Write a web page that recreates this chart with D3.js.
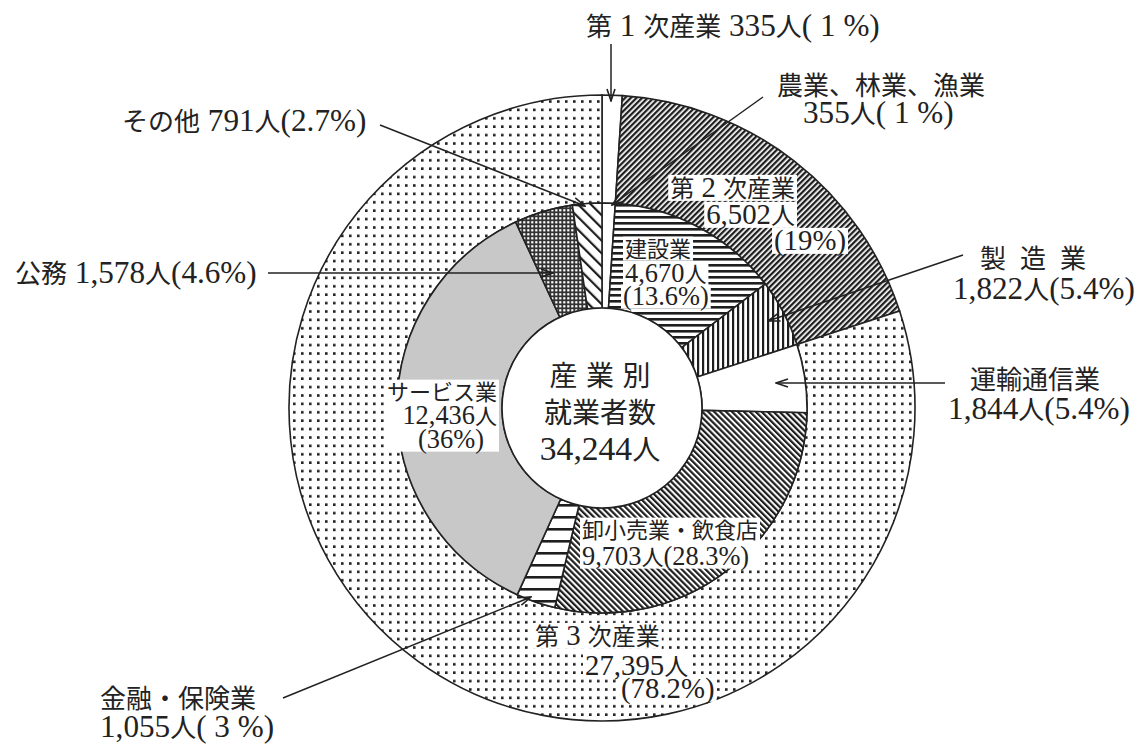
<!DOCTYPE html>
<html>
<head>
<meta charset="utf-8">
<script src="https://cdn.jsdelivr.net/npm/d3@7"></script>
<style>
body { margin: 0; background: #fff; }
text { font-family: "Liberation Serif", "Noto Sans CJK JP", serif; fill: #222; }
</style>
</head>
<body>
<svg id="chart"></svg>
<script>
var width = 1135,
    height = 745;
var cx = 602, cy = 408;
var rOuter = 313, rMid = 205, rHole = 100;

// inner ring: industries (clockwise from top)
var industries = ['農業、林業、漁業', '建設業', '製造業', '運輸通信業', '卸小売業・飲食店', '金融・保険業', 'サービス業', '公務', 'その他'];
var workers = [355, 4670, 1822, 1844, 9703, 1055, 12436, 1578, 791];
var shares = ['( 1 %)', '(13.6%)', '(5.4%)', '(5.4%)', '(28.3%)', '( 3 %)', '(36%)', '(4.6%)', '(2.7%)'];
var sectorOf = [0, 1, 1, 2, 2, 2, 2, 2, 2];

// outer ring: sectors
var sectors = ['第 1 次産業', '第 2 次産業', '第 3 次産業'];
var sectorWorkers = [335, 6502, 27395];
var sectorShares = ['( 1 %)', '(19%)', '(78.2%)'];

var totalWorkers = 34244;
var centerTitle = ['産 業 別', '就業者数'];

var fmt = d3.format(',');
var innerFill = ['#fff', 'url(#hline)', 'url(#vline)', '#fff', 'url(#diagB)', 'url(#hwide)', '#c8c8c8', 'url(#mesh)', 'url(#diagWide)'];
var outerFill = ['#fff', 'url(#diagF)', 'url(#dots)'];

var svg = d3.select('#chart')
            .attr('width', width)
            .attr('height', height);
var defs = svg.append('defs');

function stripes(id, size, lw, angle){
  var p = defs.append('pattern').attr('id', id)
      .attr('patternUnits', 'userSpaceOnUse')
      .attr('width', size).attr('height', size)
      .attr('patternTransform', 'rotate(' + angle + ')');
  p.append('rect').attr('width', size).attr('height', size).attr('fill', '#fff');
  p.append('rect').attr('width', lw).attr('height', size).attr('fill', '#1e1e1e');
}
stripes('diagF', 4, 2.3, 45);
stripes('diagB', 4.2, 2.2, -45);
stripes('diagWide', 9, 2.2, -45);
stripes('hline', 6, 2.6, 90);
stripes('hwide', 12, 2.6, 90);
stripes('vline', 5, 2.2, 0);

var dots = defs.append('pattern').attr('id', 'dots')
    .attr('patternUnits', 'userSpaceOnUse').attr('width', 8).attr('height', 8.4);
dots.append('rect').attr('width', 8).attr('height', 8.4).attr('fill', '#fff');
dots.append('rect').attr('x', 3).attr('y', 3).attr('width', 2.6).attr('height', 2.6).attr('fill', '#222');

var mesh = defs.append('pattern').attr('id', 'mesh')
    .attr('patternUnits', 'userSpaceOnUse').attr('width', 4).attr('height', 4);
mesh.append('rect').attr('width', 4).attr('height', 4).attr('fill', '#333');
mesh.append('rect').attr('x', 1.2).attr('y', 1.2).attr('width', 2.2).attr('height', 2.2).attr('fill', '#fff');

defs.append('marker').attr('id', 'arr')
    .attr('viewBox', '0 0 14 10').attr('refX', 13).attr('refY', 5)
    .attr('markerWidth', 14).attr('markerHeight', 10)
    .attr('markerUnits', 'userSpaceOnUse').attr('orient', 'auto')
  .append('path').attr('d', 'M1,1 L13,5 L1,9')
    .attr('fill', 'none').attr('stroke', '#222').attr('stroke-width', 1.6);

var g = svg.append('g').attr('transform', 'translate(' + cx + ',' + cy + ')');

var pie = d3.pie().sort(null).value(d => d);
var innerArcs = pie(workers);

// outer ring spans the inner slices of each sector
var outerArcs = d3.groups(innerArcs, (d, i) => sectorOf[i]).map(function(grp){
  return {
    index: grp[0],
    startAngle: d3.min(grp[1], d => d.startAngle),
    endAngle: d3.max(grp[1], d => d.endAngle)
  };
});

var arcOuter = d3.arc().innerRadius(rMid).outerRadius(rOuter);
var arcInner = d3.arc().innerRadius(rHole).outerRadius(rMid);

g.selectAll('.outer')
  .data(outerArcs)
  .enter()
  .append('path')
    .attr('class', 'outer')
    .attr('fill', d => outerFill[d.index])
    .attr('stroke', '#222')
    .attr('stroke-width', 1.6)
    .attr('d', arcOuter);

g.selectAll('.inner')
  .data(innerArcs)
  .enter()
  .append('path')
    .attr('class', 'inner')
    .attr('fill', (d, i) => innerFill[i])
    .attr('stroke', '#222')
    .attr('stroke-width', 1.6)
    .attr('d', arcInner);

g.append('circle').attr('r', rHole).attr('fill', '#fff')
  .attr('stroke', '#222').attr('stroke-width', 1.6);

// leader lines
var leaders = [
  [611, 44, 611, 101],
  [763, 97, 612, 205],
  [380, 125, 585, 206],
  [268, 273, 553, 273],
  [963, 255, 768, 321],
  [945, 383, 776, 383],
  [283, 698, 531, 597]
];
svg.selectAll('.leader')
  .data(leaders)
  .enter()
  .append('line')
    .attr('class', 'leader')
    .attr('x1', d => d[0]).attr('y1', d => d[1])
    .attr('x2', d => d[2]).attr('y2', d => d[3])
    .attr('stroke', '#222').attr('stroke-width', 1.5)
    .attr('marker-end', 'url(#arr)');

// label blocks: size, anchor, box ('none' | 'lines' | 'block'), lines [text, x, baseline, letterSpacing]
var blocks = [
  {size: 26, anchor: 'start', box: 'none', lines: [
    [sectors[0] + ' ' + fmt(sectorWorkers[0]) + '人' + sectorShares[0], 586, 36]]},
  {size: 26, anchor: 'start', box: 'none', lines: [
    [industries[0], 777, 95],
    [fmt(workers[0]) + '人' + shares[0], 803, 123]]},
  {size: 26, anchor: 'start', box: 'none', lines: [
    [industries[8] + ' ' + fmt(workers[8]) + '人' + shares[8], 122, 131]]},
  {size: 26, anchor: 'start', box: 'none', lines: [
    [industries[7] + ' ' + fmt(workers[7]) + '人' + shares[7], 15, 283]]},
  {size: 26, anchor: 'start', box: 'none', lines: [
    [industries[2], 980, 268, 14],
    [fmt(workers[2]) + '人' + shares[2], 953, 299]]},
  {size: 26, anchor: 'end', box: 'none', lines: [
    [industries[3], 1100, 389],
    [fmt(workers[3]) + '人' + shares[3], 1130, 419]]},
  {size: 26, anchor: 'start', box: 'none', lines: [
    [industries[5], 100, 708],
    [fmt(workers[5]) + '人' + shares[5], 100, 737]]},
  {size: 24, anchor: 'end', box: 'lines', lines: [
    [sectors[1], 795, 197],
    [fmt(sectorWorkers[1]) + '人', 795, 224],
    [sectorShares[1], 846, 250]]},
  {size: 22, anchor: 'start', box: 'lines', lines: [
    [industries[1], 625, 257],
    [fmt(workers[1]) + '人', 625, 282],
    [shares[1], 623, 305]]},
  {size: 22, anchor: 'end', box: 'block', lines: [
    [industries[6], 497, 400],
    [fmt(workers[6]) + '人', 497, 424],
    [shares[6], 484, 448]]},
  {size: 22, anchor: 'start', box: 'block', lines: [
    [industries[4], 582, 538],
    [fmt(workers[4]) + '人' + shares[4], 582, 565]]},
  {size: 24, anchor: 'start', box: 'lines', lines: [
    [sectors[2], 535, 645],
    [fmt(sectorWorkers[2]) + '人', 585, 675],
    [sectorShares[2], 621, 698]]},
  {size: 28, anchor: 'middle', box: 'none', lines: [
    [centerTitle[0], 600, 386],
    [centerTitle[1], 600, 423],
    [fmt(totalWorkers) + '人', 600, 460]]}
];

// Latin runs (digits, brackets) are set larger to look like the tall print digits
function runs(s){
  return s.match(/[\x20-\x7e]+|[^\x20-\x7e]+/g);
}
function isLatin(r){ return /^[\x20-\x7e]+$/.test(r); }

function fillRuns(sel, str){
  sel.selectAll('tspan.run')
    .data(runs(str))
    .enter()
    .append('tspan')
      .attr('class', 'run')
      .attr('font-size', r => isLatin(r) ? '1.2em' : null)
      .text(r => r);
}

// measure one line with a temporary text
function measure(line, b){
  var t = svg.append('text')
      .attr('x', line[1]).attr('y', line[2])
      .attr('font-size', b.size)
      .attr('text-anchor', b.anchor);
  fillRuns(t, line[0]);
  var bb = t.node().getBBox();
  t.remove();
  return {x0: bb.x, x1: bb.x + bb.width, y0: line[2] - b.size * 0.88, y1: line[2] + b.size * 0.12};
}

var labels = svg.selectAll('.label')
  .data(blocks)
  .enter()
  .append('g')
    .attr('class', 'label');

labels.each(function(b){
  var grp = d3.select(this);
  if (b.box !== 'none') {
    var boxes = b.lines.map(l => measure(l, b));
    if (b.box === 'block') {
      boxes = [{
        x0: d3.min(boxes, d => d.x0), x1: d3.max(boxes, d => d.x1),
        y0: d3.min(boxes, d => d.y0), y1: d3.max(boxes, d => d.y1)
      }];
    }
    grp.selectAll('rect')
      .data(boxes)
      .enter()
      .append('rect')
        .attr('x', d => d.x0 - 2).attr('y', d => d.y0 - 1)
        .attr('width', d => d.x1 - d.x0 + 4).attr('height', d => d.y1 - d.y0 + 2)
        .attr('fill', '#fff');
  }
  var text = grp.append('text')
      .attr('font-size', b.size)
      .attr('text-anchor', b.anchor);
  b.lines.forEach(function(l){
    var line = text.append('tspan').attr('x', l[1]).attr('y', l[2])
        .attr('letter-spacing', l[3] || null);
    fillRuns(line, l[0]);
  });
});
</script>
</body>
</html>
